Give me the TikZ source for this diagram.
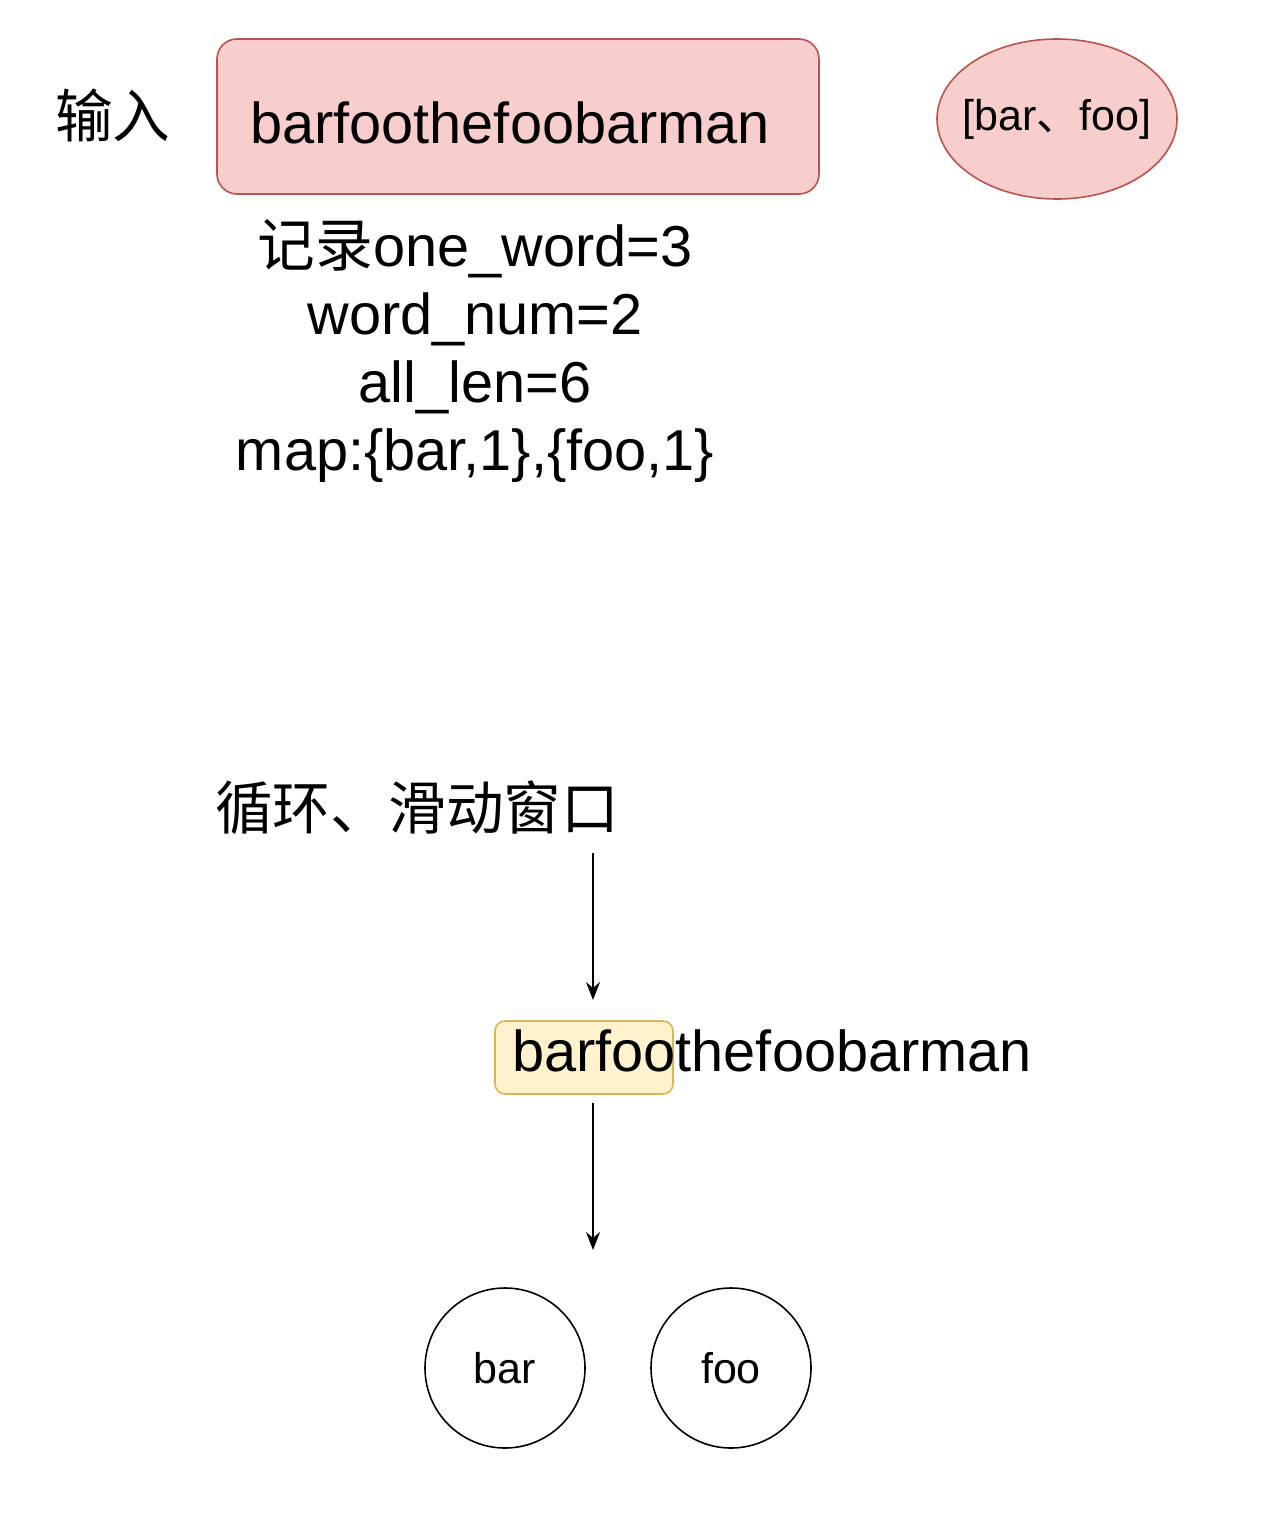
\documentclass[tikz,border=0pt]{standalone}
\usepackage{fontspec}
\setmainfont{Liberation Sans}
\newfontfamily\cjk{Noto Sans CJK SC}
\usetikzlibrary{arrows.meta,shapes.geometric}
\definecolor{redfill}{HTML}{F8CECC}
\definecolor{redline}{HTML}{B85450}
\definecolor{yelfill}{HTML}{FFF2CC}
\definecolor{yelline}{HTML}{D6B656}
\tikzset{
  big/.style={font=\fontsize{57.7}{68}\selectfont, inner sep=0pt},
  mid/.style={font=\fontsize{43}{50}\selectfont},
  arr/.style={-{Stealth[length=18pt,width=14pt,inset=6pt]}, line width=1.6pt},
}
\begin{document}
\begin{tikzpicture}[x=1pt,y=-1pt]
\useasboundingbox (0,0) rectangle (1278,1514);
% top row
\node[big,anchor=west] (inp) at (55,115) {\cjk 输入};
\node[draw=redline, fill=redfill, line width=1.6pt, rounded corners=20pt,
      minimum width=602pt, minimum height=155pt, inner sep=0pt] (box) at (518,116.5) {};
\node[big,anchor=west] (boxt) at (250,123) {barfoothefoobarman};
\node[draw=redline, fill=redfill, line width=1.6pt, ellipse,
      minimum width=240pt, minimum height=160pt, inner sep=0pt] (ell) at (1057,119) {};
\node[mid, inner sep=0pt] (ellt) at (ell.center) {[bar{\cjk 、}foo]};
% info text
\node[big, align=center] (info) at (475,351) {{\cjk 记录}one\_word=3\\word\_num=2\\all\_len=6\\map:\{bar,1\},\{foo,1\}};
% loop title
\node[big,anchor=west] (loop) at (215,808) {\cjk 循环、滑动窗口};
% window
\node[draw=yelline, fill=yelfill, line width=1.6pt, rounded corners=10pt,
      minimum width=178pt, minimum height=73pt, inner sep=0pt] (win) at (584,1057.5) {};
\node[big,anchor=west] (wint) at (512,1051) {barfoothefoobarman};
% circles
\node[draw, circle, line width=1.6pt, minimum size=160pt, inner sep=0pt, mid] (bar) at (505,1368) {bar};
\node[draw, circle, line width=1.6pt, minimum size=160pt, inner sep=0pt, mid] (foo) at (731,1368) {foo};
% arrows
\coordinate (a1s) at (593,853);
\coordinate (a1e) at (593,1000);
\coordinate (a2s) at (593,1103);
\coordinate (a2e) at (593,1250);
\draw[arr] (a1s) -- (a1e);
\draw[arr] (a2s) -- (a2e);
\end{tikzpicture}
\end{document}
